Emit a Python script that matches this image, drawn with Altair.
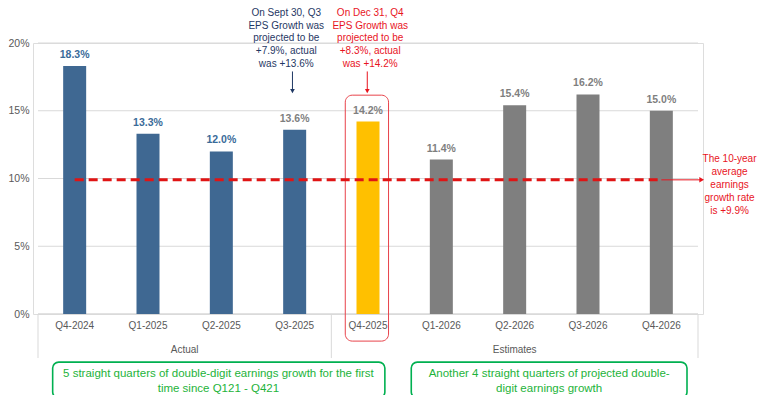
import altair as alt
import pandas as pd

# ---------------- data ----------------
quarters = ["Q4-2024", "Q1-2025", "Q2-2025", "Q3-2025", "Q4-2025",
            "Q1-2026", "Q2-2026", "Q3-2026", "Q4-2026"]
growth = [18.3, 13.3, 12.0, 13.6, 14.2, 11.4, 15.4, 16.2, 15.0]
bar_colors = ["#3F6892", "#3F6892", "#3F6892", "#3F6892", "#FFC000",
              "#7F7F7F", "#7F7F7F", "#7F7F7F", "#7F7F7F"]
label_colors = ["#3A6B99", "#3A6B99", "#3A6B99", "#7F7F7F", "#7F7F7F",
                "#7F7F7F", "#7F7F7F", "#7F7F7F", "#7F7F7F"]
avg_growth = 9.9

groups = ["Actual", "Estimates"]
group_centers = [1.5, 6.0]
separators = [-0.5, 3.5, 8.5]
y_ticks = [0, 5, 10, 15, 20]

blue_note = ["On Sept 30, Q3", "EPS Growth was", "projected to be",
             "+7.9%, actual", "was +13.6%"]
red_note = ["On Dec 31, Q4", "EPS Growth was", "projected to be",
            "+8.3%, actual", "was +14.2%"]
avg_note = ["The 10-year", "average", "earnings", "growth rate", "is +9.9%"]
green_left = ["5 straight quarters of double-digit earnings growth for the first",
              "time since Q121 - Q421"]
green_right = ["Another 4 straight quarters of projected double-",
               "digit earnings growth"]

FONT = "Liberation Sans, Arial, sans-serif"
GRID = "#D9D9D9"
RED = "#E8141E"
NAVY = "#1F3864"
GREEN = "#00B050"

df = pd.DataFrame({"idx": list(range(len(quarters))), "q": quarters,
                   "v": growth, "c": bar_colors, "lc": label_colors})

xs = alt.Scale(domain=[-0.5, 8.5], nice=False, zero=False)
ys = alt.Scale(domain=[0, 20], nice=False)
yaxis = alt.Axis(values=y_ticks, labelExpr="datum.value + '%'",
                 domain=False, ticks=False, grid=False, labelPadding=4,
                 labelFont=FONT, labelFontSize=10.5, labelColor="#595959",
                 title=None)
X = lambda f: alt.X(f, type="quantitative", scale=xs, axis=None)
Y = lambda f: alt.Y(f, type="quantitative", scale=ys, axis=yaxis)

# gridlines
grid_df = pd.DataFrame({"g": y_ticks, "a": [-0.5] * 5, "b": [8.5] * 5})
grid = alt.Chart(grid_df).mark_rule(color=GRID, strokeWidth=1).encode(
    y=Y("g"), x=X("a"), x2="b")

# separators below axis
sep_df = pd.DataFrame({"s": separators, "y0": [0] * 3, "y1": [-3.25] * 3})
seps = alt.Chart(sep_df).mark_rule(color=GRID, strokeWidth=1).encode(
    x=X("s"), y=Y("y0"), y2="y1")

bars = alt.Chart(df).mark_bar(size=23).encode(
    x=X("idx"), y=Y("v"), color=alt.Color("c:N", scale=None))

labels = alt.Chart(df).transform_calculate(
    t="format(datum.v, '.1f') + '%'"
).mark_text(dy=-11, font=FONT, fontSize=10.5, fontWeight="bold").encode(
    x=X("idx"), y=Y("v"), text="t:N", color=alt.Color("lc:N", scale=None))

cat_labels = alt.Chart(df.assign(yy=-0.9)).mark_text(
    font=FONT, fontSize=10, color="#595959").encode(x=X("idx"), y=Y("yy"), text="q:N")

grp_df = pd.DataFrame({"g": groups, "x": group_centers, "yy": [-2.65, -2.65]})
grp_labels = alt.Chart(grp_df).mark_text(font=FONT, fontSize=10,
                                         color="#595959").encode(
    x=X("x"), y=Y("yy"), text="g:N")

# average line
avg_df = pd.DataFrame({"x0": [0], "x1": [8], "v": [avg_growth]})
avg_line = alt.Chart(avg_df).mark_rule(color="#E01414", strokeWidth=3,
                                       strokeDash=[9, 5]).encode(
    x=X("x0"), x2="x1", y=Y("v"))
arr_df = pd.DataFrame({"x0": [8], "x1": [8.55], "v": [avg_growth]})
avg_arrow = alt.Chart(arr_df).mark_rule(color=RED, strokeWidth=1).encode(
    x=X("x0"), x2="x1", y=Y("v"))
avg_head = alt.Chart(arr_df).mark_point(shape="triangle-right", filled=True,
                                        size=30, color=RED, opacity=1).encode(
    x=X("x1"), y=Y("v"))

def note(lines, xc, ytop, step, color, size):
    d = pd.DataFrame({"t": lines, "x": [xc] * len(lines),
                      "y": [ytop - i * step for i in range(len(lines))]})
    return alt.Chart(d).mark_text(font=FONT, fontSize=size, color=color).encode(
        x=X("x"), y=Y("y"), text="t:N")

blue_txt = note(blue_note, 2.885, 22.2, 0.93, NAVY, 10)
red_txt = note(red_note, 4.03, 22.2, 0.93, RED, 10)
avg_txt = note(avg_note, 8.93, 11.44, 0.96, RED, 10)

# vertical annotation arrows
va_df = pd.DataFrame({"x": [2.97, 3.99], "y0": [17.9, 17.9], "y1": [16.45, 16.45],
                      "c": [NAVY, RED]})
va_rule = alt.Chart(va_df).mark_rule(strokeWidth=1).encode(
    x=X("x"), y=Y("y0"), y2="y1", color=alt.Color("c:N", scale=None))
va_head = alt.Chart(va_df).mark_point(shape="triangle-down", filled=True, size=22,
                                      opacity=1).encode(
    x=X("x"), y=Y("y1"), color=alt.Color("c:N", scale=None))

# red highlight box around Q4-2025
hb_df = pd.DataFrame({"x0": [3.69], "x1": [4.28], "y0": [16.15], "y1": [-2.0]})
hbox = alt.Chart(hb_df).mark_rect(filled=False, stroke="#E8434B", strokeWidth=1,
                                  cornerRadius=7).encode(
    x=X("x0"), x2="x1", y=Y("y0"), y2="y1")

# green boxes
gb_df = pd.DataFrame({"x0": [-0.30, 4.59], "x1": [4.23, 8.35],
                      "y0": [-3.55, -3.55], "y1": [-6.2, -6.2]})
gboxes = alt.Chart(gb_df).mark_rect(filled=False, stroke=GREEN, strokeWidth=1.6,
                                    cornerRadius=6).encode(
    x=X("x0"), x2="x1", y=Y("y0"), y2="y1")

def gtext(lines, xc):
    d = pd.DataFrame({"t": lines, "x": [xc] * len(lines),
                      "y": [-4.4 - i * 1.12 for i in range(len(lines))]})
    return alt.Chart(d).mark_text(font=FONT, fontSize=11.5, color="#1DB33A").encode(
        x=X("x"), y=Y("y"), text="t:N")

gl_txt = gtext(green_left, 1.96)
gr_txt = gtext(green_right, 6.47)

base_rule = alt.Chart(pd.DataFrame({"a": [-0.5], "b": [8.5], "z": [0]})).mark_rule(
    color=GRID, strokeWidth=1).encode(x=X("a"), x2="b", y=Y("z"))

chart = alt.layer(
    grid, seps, base_rule, bars, labels, cat_labels, grp_labels,
    hbox, avg_line, avg_arrow, avg_head, blue_txt, red_txt, avg_txt,
    va_rule, va_head, gboxes, gl_txt, gr_txt
).properties(
    width=670, height=271,
    padding={"left": 25, "top": 35, "right": 57, "bottom": 81},
    autosize=alt.AutoSizeParams(type="none"),
).configure_view(stroke=None).configure(font=FONT)

chart.save("out.html", embed_options={"renderer": "svg", "actions": False})
